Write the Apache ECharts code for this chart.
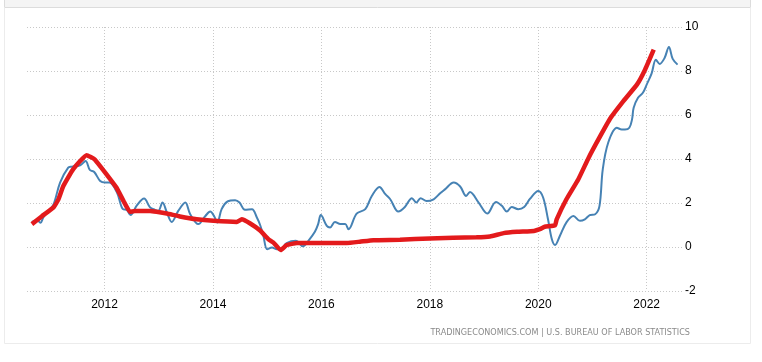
<!DOCTYPE html>
<html>
<head>
<meta charset="utf-8">
<script src="https://cdn.jsdelivr.net/npm/echarts@6/dist/echarts.min.js"></script>
<style>
html,body{margin:0;padding:0;background:#fff;}
#chart{width:762px;height:362px;}
</style>
</head>
<body>
<div id="chart"></div>
<script>
// ---- data (decimal year, percent) ----
const blueYears = [2010.66,2010.76,2010.82,2010.87,2010.97,2011.06,2011.18,2011.33,2011.39,2011.55,2011.65,2011.73,2011.81,2011.92,2012.01,2012.09,2012.23,2012.34,2012.41,2012.48,2012.59,2012.73,2012.84,2012.93,2012.99,2013.07,2013.15,2013.24,2013.36,2013.49,2013.58,2013.73,2013.86,2013.95,2014.02,2014.08,2014.16,2014.27,2014.41,2014.49,2014.59,2014.72,2014.81,2014.87,2014.93,2015.0,2015.09,2015.18,2015.27,2015.36,2015.53,2015.66,2015.76,2015.88,2015.94,2015.99,2016.1,2016.16,2016.25,2016.35,2016.44,2016.5,2016.65,2016.81,2016.93,2017.07,2017.18,2017.27,2017.42,2017.54,2017.67,2017.75,2017.83,2017.94,2018.07,2018.19,2018.28,2018.44,2018.56,2018.67,2018.74,2018.9,2019.06,2019.22,2019.33,2019.42,2019.51,2019.63,2019.74,2019.85,2020.0,2020.09,2020.18,2020.25,2020.31,2020.4,2020.52,2020.65,2020.77,2020.86,2020.95,2021.05,2021.13,2021.19,2021.29,2021.45,2021.54,2021.6,2021.68,2021.73,2021.76,2021.84,2021.93,2022.0,2022.09,2022.17,2022.24,2022.33,2022.41,2022.48,2022.57];
const blueValues = [1.14,1.2,1.1,1.34,1.65,1.94,2.93,3.61,3.65,3.71,3.91,3.5,3.41,3.0,2.93,2.93,2.47,1.72,1.69,1.45,1.87,2.2,1.8,1.69,1.64,2.02,1.57,1.14,1.64,2.02,1.49,1.04,1.41,1.61,1.41,1.11,1.72,2.07,2.13,2.02,1.69,1.72,1.34,1.0,0.51,-0.1,-0.02,-0.1,-0.06,0.18,0.28,0.03,0.28,0.69,1.04,1.45,0.96,0.89,1.14,1.04,1.04,0.81,1.52,1.72,2.32,2.73,2.4,2.17,1.61,1.82,2.22,2.02,2.22,2.09,2.17,2.44,2.62,2.93,2.75,2.32,2.5,2.02,1.52,2.05,1.87,1.61,1.82,1.72,1.82,2.2,2.55,2.25,1.26,0.36,0.09,0.51,1.12,1.41,1.19,1.26,1.45,1.49,1.87,3.53,4.74,5.42,5.34,5.34,5.42,5.8,6.33,6.78,7.01,7.38,7.88,8.51,8.32,8.59,9.09,8.55,8.29];

const redYears = [2010.66,2010.84,2011.06,2011.15,2011.24,2011.42,2011.67,2011.82,2012.22,2012.35,2012.47,2012.56,2012.84,2012.96,2013.15,2013.39,2013.7,2014.01,2014.44,2014.53,2014.68,2014.87,2015.02,2015.11,2015.25,2015.36,2015.55,2015.98,2016.47,2016.71,2016.96,2017.45,2018.0,2018.86,2019.11,2019.36,2019.61,2019.92,2020.03,2020.12,2020.31,2020.34,2020.52,2020.74,2020.93,2021.11,2021.33,2021.57,2021.82,2021.97,2022.13];
const redValues = [1.04,1.39,1.8,2.17,2.77,3.53,4.17,3.98,2.7,2.09,1.6,1.64,1.64,1.6,1.52,1.39,1.26,1.19,1.14,1.26,1.08,0.75,0.36,0.21,-0.14,0.09,0.18,0.18,0.18,0.24,0.31,0.33,0.39,0.44,0.48,0.63,0.69,0.73,0.81,0.92,0.99,1.26,2.17,3.08,4.06,4.89,5.85,6.63,7.38,8.06,8.97];

const xTickYears = [2012,2014,2016,2018,2020,2022];
const yMin = -2, yMax = 10, yStep = 2;
const sourceText = 'TRADINGECONOMICS.COM | U.S. BUREAU OF LABOR STATISTICS';

const zip = (xs, ys) => xs.map((x, i) => [x, ys[i]]);

const chart = echarts.init(document.getElementById('chart'), null, {renderer: 'canvas'});
const fontFam = '"Liberation Sans", Arial, sans-serif';
chart.setOption({
  animation: false,
  backgroundColor: '#ffffff',
  grid: {left: 27, right: 79, top: 27, bottom: 71, containLabel: false},
  xAxis: {
    type: 'value',
    min: 2010.57,
    max: 2022.67,
    axisLine: {show: false},
    axisTick: {show: false, customValues: xTickYears},
    axisLabel: {
      customValues: xTickYears,
      color: '#000',
      fontSize: 12,
      fontFamily: fontFam,
      margin: 8,
      formatter: v => String(Math.round(v))
    },
    splitLine: {show: true, lineStyle: {color: '#c8c8c8', type: [1, 2], width: 1}}
  },
  yAxis: {
    type: 'value',
    position: 'right',
    min: yMin,
    max: yMax,
    interval: yStep,
    axisLine: {show: false},
    axisTick: {show: false},
    axisLabel: {color: '#000', fontSize: 12, fontFamily: fontFam, margin: 2},
    splitLine: {show: true, lineStyle: {color: '#c8c8c8', type: [1, 2], width: 1}}
  },
  series: [
    {
      type: 'line',
      data: zip(blueYears, blueValues),
      showSymbol: false,
      smooth: 0.35,
      lineStyle: {color: '#4682b4', width: 2},
      z: 2
    },
    {
      type: 'line',
      data: zip(redYears, redValues),
      showSymbol: false,
      smooth: 0.12,
      lineStyle: {color: '#e31a1c', width: 4.5},
      z: 3
    }
  ],
  graphic: [
    {type: 'rect', shape: {x: 4.5, y: -1, width: 746, height: 8.5}, style: {fill: '#f4f4f4', stroke: '#dcdcdc', lineWidth: 1}, z: -1},
    {type: 'polyline', shape: {points: [[4.5, 7.5], [4.5, 343.5], [750.5, 343.5], [750.5, 7.5]]}, style: {fill: null, stroke: '#ececec', lineWidth: 1}, z: -1},
    {type: 'text', right: 72, top: 328, style: {text: sourceText, fill: '#8a8a8a', font: '9px "DejaVu Sans Condensed", "Liberation Sans", sans-serif'}}
  ]
});
</script>
</body>
</html>
